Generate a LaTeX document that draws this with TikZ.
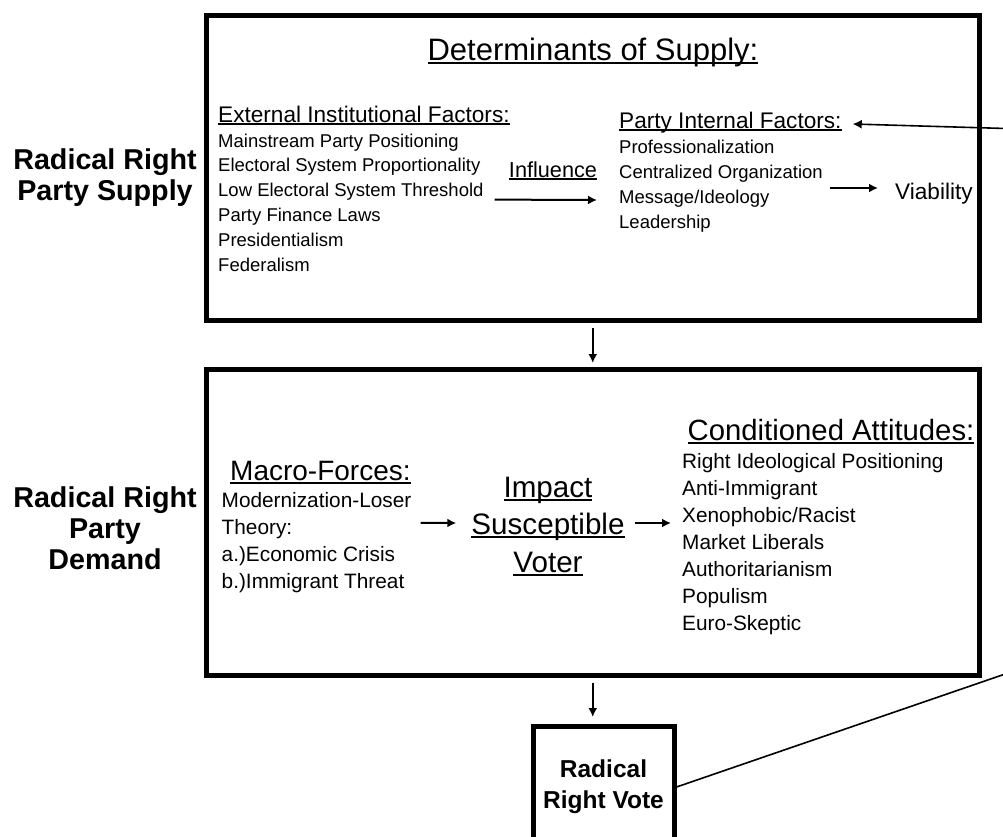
\documentclass[tikz,border=0pt]{standalone}
\usepackage{fontspec}
\setmainfont{Liberation Sans}
\usetikzlibrary{arrows.meta,shadows}

\newcommand{\ulx}[1]{\setbox0=\hbox{#1}\rlap{\rule[-0.13em]{\wd0}{0.065em}}\box0}

\begin{document}
\begin{tikzpicture}[x=1pt,y=-1pt,>={Latex[length=9pt,width=9pt]},
    box/.style={rectangle,draw=black,line width=5pt,fill=white,drop shadow={shadow xshift=1.5pt,shadow yshift=-1.5pt,opacity=.35}},
    side/.style={align=center,inner sep=0pt,font=\bfseries\fontsize{28.7}{31}\selectfont},
    head/.style={anchor=base west,inner sep=0pt,font=\fontsize{22.6}{27}\selectfont},
    item/.style={anchor=base west,inner sep=0pt,font=\fontsize{18.5}{24}\selectfont},
    bigitem/.style={anchor=base west,inner sep=0pt,font=\fontsize{20.8}{27}\selectfont},
    arr/.style={->,line width=2pt}]

    \useasboundingbox (0,0) rectangle (1003,836);
    \clip (0,0) rectangle (1003,836);

    % frames
    \node (supply) at (592.75,168) [box,minimum width=773.5pt,minimum height=305pt] {};
    \node (demand) at (592.75,522.25) [box,minimum width=773.5pt,minimum height=305.5pt] {};
    \node (vote) at (603.5,787) [box,minimum width=141pt,minimum height=121pt,align=center,font=\bfseries\fontsize{24.5}{31}\selectfont] {Radical\\Right Vote};

    % row labels (base = last line)
    \node (supplylab) at (105,200) [side,anchor=base] {Radical Right\\Party Supply};
    \node (demandlab) at (105,569) [side,anchor=base] {Radical Right\\Party\\Demand};

    % supply side
    \node (detsup) at (593,60) [anchor=base,inner sep=0pt,font=\fontsize{31}{36}\selectfont] {\ulx{Determinants of Supply:}};
    \node (ext) at (218,122) [head] {\ulx{External Institutional Factors:}};
    \foreach \t [count=\i] in {Mainstream Party Positioning,Electoral System Proportionality,Low Electoral System Threshold,Party Finance Laws,Presidentialism,Federalism}
        \node (ext\i) at (218,122.2+24.8*\i) [item] {\t};
    \node (int) at (619,128) [head] {\ulx{Party Internal Factors:}};
    \foreach \t [count=\i] in {Professionalization,Centralized Organization,Message/Ideology,Leadership}
        \node (int\i) at (619,128+25*\i) [item] {\t};
    \node (infl) at (553,177) [anchor=base,inner sep=0pt,font=\fontsize{21.7}{26}\selectfont] {\ulx{Influence}};
    \node (viab) at (895,199) [head] {Viability};
    \draw[arr] ([shift={(11,3)}]ext3.base east) -- ([shift={(-22,-3)}]int3.base west);
    \draw[arr] ([shift={(7,10)}]int2.base east) -- ([shift={(-17,-11)}]viab.base west);

    % demand side
    \node (macro) at (230,480) [anchor=base west,inner sep=0pt,font=\fontsize{28}{33}\selectfont] {\ulx{Macro-Forces:}};
    \foreach \t [count=\i] in {Modernization-Loser,Theory:,{a.)Economic Crisis},{b.)Immigrant Threat}}
        \node (mac\i) at (221.5,481+26.8*\i) [bigitem] {\t};
    \node (imp) at (548,572) [anchor=base,align=center,inner sep=0pt,font=\fontsize{29.6}{37.5}\selectfont] {\ulx{Impact}\\\ulx{Susceptible}\\\ulx{Voter}};
    \node (cond) at (687.5,440) [anchor=base west,inner sep=0pt,font=\fontsize{29.3}{35}\selectfont] {\ulx{Conditioned Attitudes:}};
    \foreach \t [count=\i] in {Right Ideological Positioning,Anti-Immigrant,Xenophobic/Racist,Market Liberals,Authoritarianism,Populism,Euro-Skeptic}
        \node (att\i) at (682,441+27*\i) [bigitem] {\t};
    \draw[arr] ([shift={(9,15)}]mac1.base east) -- ([shift={(-15,-49)}]imp.base west);
    \draw[arr] ([shift={(10,-49)}]imp.base east) -- ([shift={(-11,1)}]att3.base west);

    % between the frames
    \draw[arr] ([yshift=-5pt]supply.south) -- ([yshift=4pt]demand.north);
    \draw[arr] ([yshift=-5pt]demand.south) -- ([yshift=7pt]demand.south |- vote.north);

    % vote feeds back to the party
    \coordinate (outA) at (1040,662);
    \coordinate (outB) at (1040,129.5);
    \draw[->,line width=1.6pt] (vote.east) -- (outA) -- (outB) -- ([shift={(11,-4)}]int.base east);
\end{tikzpicture}
\end{document}
